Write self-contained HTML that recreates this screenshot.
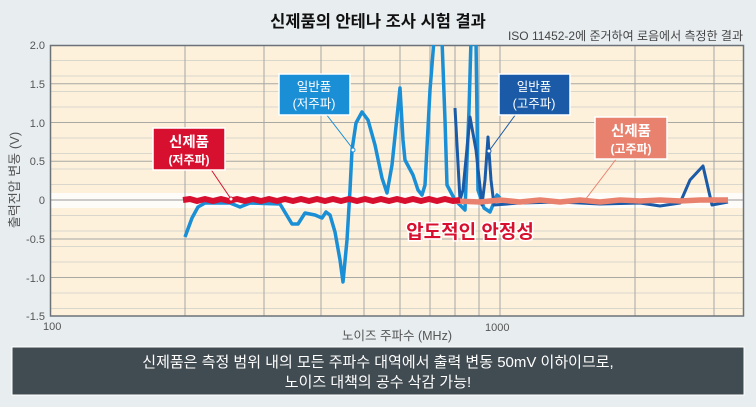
<!DOCTYPE html>
<html><head><meta charset="utf-8"><style>
body{margin:0;width:756px;height:402px;background:#e8edf0;overflow:hidden;font-family:"Liberation Sans","Noto Sans CJK KR",sans-serif}
</style></head><body>
<svg width="756" height="402" viewBox="0 0 756 402" xmlns="http://www.w3.org/2000/svg" style="font-family:'Liberation Sans','Noto Sans CJK KR',sans-serif">
<rect width="756" height="402" fill="#e8edf0"/>
<text x="378" y="27" text-anchor="middle" font-size="16.5" font-weight="bold" fill="#111">신제품의 안테나 조사 시험 결과</text>
<text x="743" y="40" text-anchor="end" font-size="12" fill="#444">ISO 11452-2에 준거하여 로음에서 측정한 결과</text>
<rect x="50" y="45" width="694" height="271" fill="#fdf1dc"/>
<rect x="50" y="193" width="694" height="15" fill="#fdfcf8"/>
<g stroke="#d9d6cc" stroke-width="1">
<line x1="50" x2="744" y1="60.5" y2="60.5"/><line x1="50" x2="744" y1="76" y2="76"/><line x1="50" x2="744" y1="91.5" y2="91.5"/><line x1="50" x2="744" y1="107" y2="107"/>
<line x1="50" x2="744" y1="138" y2="138"/><line x1="50" x2="744" y1="153.5" y2="153.5"/><line x1="50" x2="744" y1="169" y2="169"/><line x1="50" x2="744" y1="184.5" y2="184.5"/>
<line x1="50" x2="744" y1="215.5" y2="215.5"/><line x1="50" x2="744" y1="231" y2="231"/><line x1="50" x2="744" y1="246.5" y2="246.5"/><line x1="50" x2="744" y1="262" y2="262"/>
<line x1="50" x2="744" y1="277.5" y2="277.5"/><line x1="50" x2="744" y1="293" y2="293"/><line x1="50" x2="744" y1="308.5" y2="308.5"/>
</g>
<g stroke="#a8a8a4" stroke-width="1">
<line x1="50" x2="744" y1="83.7" y2="83.7"/><line x1="50" x2="744" y1="122.5" y2="122.5"/><line x1="50" x2="744" y1="161.3" y2="161.3"/><line x1="50" x2="744" y1="239" y2="239"/><line x1="50" x2="744" y1="277.5" y2="277.5"/>
<line x1="185" x2="185" y1="45" y2="316"/><line x1="264" x2="264" y1="45" y2="316"/><line x1="321" x2="321" y1="45" y2="316"/><line x1="364" x2="364" y1="45" y2="316"/><line x1="400" x2="400" y1="45" y2="316"/><line x1="430" x2="430" y1="45" y2="316"/><line x1="455" x2="455" y1="45" y2="316"/><line x1="479" x2="479" y1="45" y2="316"/><line x1="500" x2="500" y1="45" y2="316"/><line x1="635" x2="635" y1="45" y2="316"/><line x1="714" x2="714" y1="45" y2="316"/>
</g>
<line x1="50" x2="744" y1="200" y2="200" stroke="#999" stroke-width="1"/>
<rect x="50.5" y="45.5" width="693" height="270.5" fill="none" stroke="#6b7378" stroke-width="1.5"/>
<g font-size="11" fill="#555" text-anchor="end">
<text x="45" y="49">2.0</text><text x="45" y="88">1.5</text><text x="45" y="127">1.0</text><text x="45" y="165">0.5</text><text x="45" y="204">0</text><text x="45" y="243">-0.5</text><text x="45" y="282">-1.0</text><text x="45" y="320">-1.5</text>
</g>
<text x="43" y="330" font-size="11" fill="#555">100</text>
<text x="485" y="331" font-size="11" fill="#555">1000</text>
<text x="397" y="340" text-anchor="middle" font-size="12.5" fill="#555">노이즈 주파수 (MHz)</text>
<text transform="translate(19,180) rotate(-90)" text-anchor="middle" font-size="13" fill="#555">출력전압 변동 (V)</text>
<svg x="50" y="45" width="694" height="271" viewBox="50 45 694 271" overflow="hidden">
<polyline fill="none" stroke="#1a8fd6" stroke-width="3.5" stroke-linejoin="round" points="185,237 192,218 198,207 205,203 230,203 240,207 250,203 280,204 292,224 298,224 305,213 315,215 322,218 326,212 330,215 335,232 340,260 343,282 347,240 350,190 352,150 356,123 362,112 368,120 375,145 382,178 387,193 392,165 400,88 403,140 405,160 413,175 418,190 422,195 425,185 430,90 434,40 442,40 445,120 447,185 455,200 465,210 469,110 471,40 476,40 478,190 484,208 490,212 497,195 500,198"/>
<polyline fill="none" stroke="#1a5aa6" stroke-width="3" stroke-linejoin="round" points="455,108 460,200 463,190 470,117 476,150 482,205 485,180 488,137 491,180 494,205 520,203 560,202 600,204 640,203 660,206 680,203 690,180 703,166 712,205 728,202"/>
<polyline fill="none" stroke="#e8826e" stroke-width="5.5" stroke-linejoin="round" points="455,201 480,202 500,200 520,202 540,200 560,202 580,200 600,202 620,200 640,201 660,200 680,201 700,200 728,200"/>
<polyline fill="none" stroke="#d8102f" stroke-width="6" stroke-linejoin="round" points="183,200 190,199 197,201 205,199 213,201 221,199 229,201 237,199 245,201 253,199 261,201 269,199 277,201 285,199 293,201 301,199 309,201 317,199 325,201 333,199 341,201 349,199 357,201 365,199 373,201 381,199 389,201 397,199 405,201 413,199 421,201 429,199 437,201 445,199 453,201 460,200"/>
</svg>
<line x1="210" y1="168" x2="231" y2="199" stroke="#d8102f" stroke-width="1"/>
<circle cx="231" cy="199" r="2" fill="#fff" stroke="#d8102f"/>
<line x1="326" y1="114" x2="353" y2="149" stroke="#1a8fd6" stroke-width="1"/>
<circle cx="353" cy="150" r="2" fill="#fff" stroke="#1a8fd6"/>
<line x1="516" y1="114" x2="489" y2="151" stroke="#1a5aa6" stroke-width="1"/>
<circle cx="489" cy="151" r="2" fill="#fff" stroke="#1a5aa6"/>
<line x1="617" y1="158" x2="585" y2="200" stroke="#e8826e" stroke-width="1"/>
<rect x="153" y="128" width="72" height="42" fill="#d8102f" stroke="#fff" stroke-width="1.5"/>
<text x="189" y="147" text-anchor="middle" font-size="14.5" font-weight="bold" fill="#fff">신제품</text>
<text x="189" y="164" text-anchor="middle" font-size="12" font-weight="bold" fill="#fff">(저주파)</text>
<rect x="279" y="74" width="71" height="41" fill="#1a8fd6" stroke="#fff" stroke-width="1.5"/>
<text x="314" y="91" text-anchor="middle" font-size="12.5" fill="#fff">일반품</text>
<text x="314" y="108" text-anchor="middle" font-size="12.5" fill="#fff">(저주파)</text>
<rect x="499" y="74" width="71" height="41" fill="#1a5aa6" stroke="#fff" stroke-width="1.5"/>
<text x="534" y="91" text-anchor="middle" font-size="12.5" fill="#fff">일반품</text>
<text x="534" y="108" text-anchor="middle" font-size="12.5" fill="#fff">(고주파)</text>
<rect x="595" y="117" width="72" height="42" fill="#e8826e" stroke="#fff" stroke-width="1.5"/>
<text x="631" y="136" text-anchor="middle" font-size="14.5" font-weight="bold" fill="#fff">신제품</text>
<text x="631" y="153" text-anchor="middle" font-size="12" font-weight="bold" fill="#fff">(고주파)</text>
<text x="470" y="238" text-anchor="middle" font-size="19" font-weight="bold" fill="#d8102f" stroke="#fff" stroke-width="3" paint-order="stroke">압도적인 안정성</text>
<rect x="12" y="347" width="732" height="48" fill="#414b52" stroke="#fff" stroke-width="1"/>
<text x="378" y="367" text-anchor="middle" font-size="15" fill="#fff">신제품은 측정 범위 내의 모든 주파수 대역에서 출력 변동 50mV 이하이므로,</text>
<text x="378" y="387" text-anchor="middle" font-size="15" fill="#fff">노이즈 대책의 공수 삭감 가능!</text>
</svg>
</body></html>
